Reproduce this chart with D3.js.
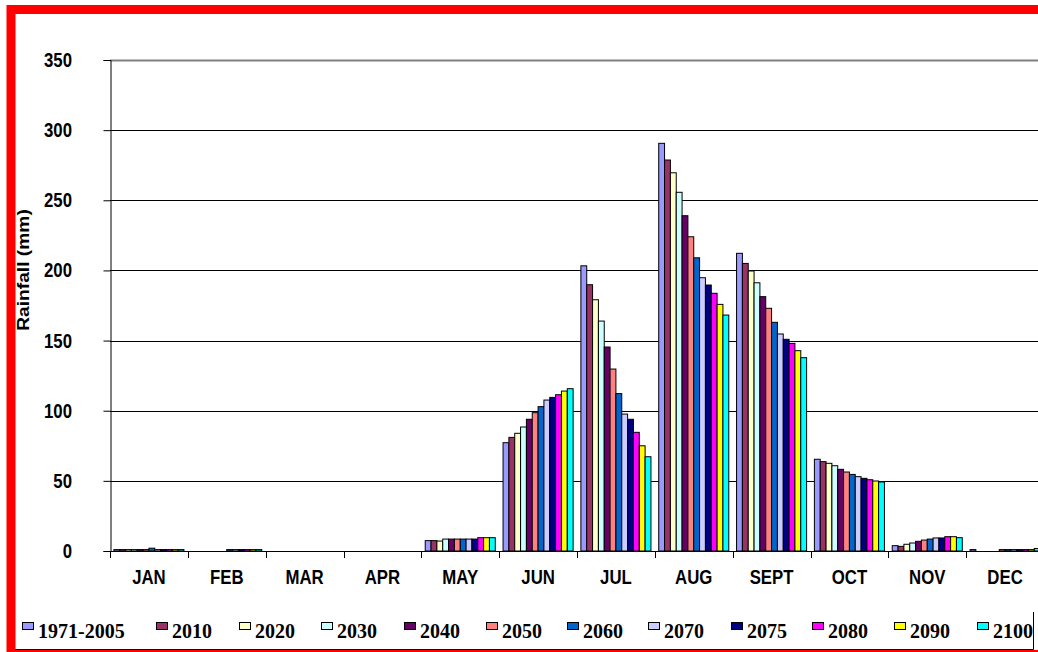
<!DOCTYPE html>
<style>
body { margin: 0; background: #fff; }
.lbl { font-family: "Liberation Sans", Arial, sans-serif; font-weight: bold; }
.leg { font-family: "Liberation Serif", "Times New Roman", serif; font-weight: bold; font-size: 20px; }
</style>
<svg width="1038" height="652" class="chart"></svg>
<script src="https://d3js.org/d3.v7.min.js"></script>
<script>

var months = ["JAN", "FEB", "MAR", "APR", "MAY", "JUN", "JUL", "AUG", "SEPT", "OCT", "NOV", "DEC"];
var series = ["1971-2005", "2010", "2020", "2030", "2040", "2050", "2060", "2070", "2075", "2080", "2090", "2100"];
var yTicks = [0, 50, 100, 150, 200, 250, 300, 350];

// rainfall (mm) per month, one value per series
var jan  = [1, 1, 1, 1, 1, 1, 2, 1, 1, 1, 1, 1];
var feb  = [0, 0, 0, 0, 0, 0, 1, 1, 1, 1, 1, 1];
var mar  = [0, 0, 0, 0, 0, 0, 0, 0, 0, 0, 0, 0];
var apr  = [0, 0, 0, 0, 0, 0, 0, 0, 0, 0, 0, 0];
var may  = [7.4, 7.4, 7.1, 8.5, 8.5, 8.5, 8.5, 8.5, 8.5, 9.5, 9.5, 9.5];
var jun  = [77.2, 81, 83.9, 88.4, 93.9, 98.6, 102.9, 107.6, 109.5, 111.4, 114, 115.7];
var jul  = [203.3, 189.8, 179.1, 163.9, 145.4, 129.7, 112.2, 97.6, 93.9, 84.6, 75, 67.2];
var aug  = [290.6, 278.7, 269.6, 255.7, 239, 224, 209, 194.8, 189.6, 183.7, 175.8, 168.2];
var sept = [212.2, 205, 199.6, 191.2, 181.3, 173, 163, 154.7, 150.9, 148, 142.8, 137.8];
var oct  = [65.4, 63.7, 62.5, 60.8, 58.2, 56.3, 54.6, 53, 51.8, 50.8, 49.9, 49.2];
var nov  = [3.8, 3.3, 4.8, 5.7, 6.9, 7.8, 8.5, 9.3, 9.3, 10.2, 10.2, 9.5];
var dec  = [1, 0, 0, 0, 0, 1, 1, 1, 1, 1, 1, 1.8];

var colors = ["#9999ff", "#993366", "#ffffcc", "#ccffff", "#660066", "#ff8080",
              "#0066cc", "#ccccff", "#000080", "#ff00ff", "#ffff00", "#00ffff"];

var values = [jan, feb, mar, apr, may, jun, jul, aug, sept, oct, nov, dec];
var data = months.map(function(m, i) { return {month: m, vals: values[i]}; });

var svg = d3.select(".chart");

var plot = {left: 110, right: 1044, top: 60, bottom: 551};

var x0 = d3.scaleBand()
    .domain(months)
    .range([plot.left, plot.right])
    .paddingInner(0.1)
    .paddingOuter(0.05);

var x1 = d3.scaleBand()
    .domain(series)
    .range([0, x0.bandwidth()]);

var y = d3.scaleLinear()
    .domain([0, 350])
    .range([plot.bottom, plot.top]);

var z = d3.scaleOrdinal().domain(series).range(colors);

// gridlines
svg.append("g")
  .selectAll("line")
  .data(yTicks.filter(function(d) { return d > 0; }))
  .enter().append("line")
    .attr("x1", plot.left)
    .attr("x2", plot.right)
    .attr("y1", function(d) { return Math.round(y(d)) + 0.5; })
    .attr("y2", function(d) { return Math.round(y(d)) + 0.5; })
    .attr("stroke", function(d) { return d == 350 ? "#808080" : "#000"; })
    .attr("stroke-width", function(d) { return d == 350 ? 2 : 1; });

// bars
svg.append("g")
  .selectAll("g")
  .data(data)
  .enter().append("g")
    .attr("transform", function(d) { return "translate(" + x0(d.month) + ",0)"; })
  .selectAll("rect")
  .data(function(d) { return d.vals.map(function(v, i) { return {key: series[i], value: v}; }); })
  .enter().append("rect")
    .attr("x", function(d) { return x1(d.key); })
    .attr("y", function(d) { return y(d.value); })
    .attr("width", x1.bandwidth())
    .attr("height", function(d) { return plot.bottom - y(d.value); })
    .attr("fill", function(d) { return z(d.key); })
    .attr("stroke", "#000")
    .attr("stroke-width", 1);

// y axis (labels drawn narrow, like the stretched original)
var yAxis = svg.append("g")
    .attr("transform", "translate(" + (plot.left + 0.5) + ",0)")
    .call(d3.axisLeft(y).tickValues(yTicks).tickSize(7).tickFormat(""));
yAxis.select(".domain").attr("stroke", "#000");

svg.append("g")
  .selectAll("text")
  .data(yTicks)
  .enter().append("text")
    .attr("class", "lbl")
    .attr("font-size", 20)
    .attr("text-anchor", "end")
    .attr("transform", function(d) { return "translate(72," + (y(d) + 7) + ") scale(0.84,1)"; })
    .text(function(d) { return d; });

// x axis, ticks at band boundaries
var step = x0.step();
svg.append("line")
    .attr("x1", plot.left)
    .attr("x2", plot.right)
    .attr("y1", plot.bottom + 0.5)
    .attr("y2", plot.bottom + 0.5)
    .attr("stroke", "#000");
svg.append("g")
  .selectAll("line")
  .data(d3.range(months.length + 1))
  .enter().append("line")
    .attr("x1", function(i) { return Math.round(plot.left + i * step) + 0.5; })
    .attr("x2", function(i) { return Math.round(plot.left + i * step) + 0.5; })
    .attr("y1", plot.bottom)
    .attr("y2", plot.bottom + 7)
    .attr("stroke", "#000");
svg.append("g")
  .selectAll("text")
  .data(months)
  .enter().append("text")
    .attr("class", "lbl")
    .attr("font-size", 20)
    .attr("text-anchor", "middle")
    .attr("transform", function(d) { return "translate(" + (x0(d) + x0.bandwidth() / 2) + ",584) scale(0.84,1)"; })
    .text(function(d) { return d; });

svg.append("text")
    .attr("class", "lbl")
    .attr("font-size", 17)
    .attr("text-anchor", "middle")
    .attr("transform", "translate(29,270) rotate(-90) scale(1.13,1)")
    .text("Rainfall (mm)");

// legend
svg.append("path")
    .attr("d", "M1033.5,612V649.5H15")
    .attr("fill", "none")
    .attr("stroke", "#000");

var legX = [22, 156, 239, 321, 404, 486, 567, 648, 731, 812, 894, 977];
var legend = svg.append("g")
    .attr("class", "leg")
  .selectAll("g")
  .data(series)
  .enter().append("g")
    .attr("transform", function(d, i) { return "translate(" + legX[i] + ",0)"; });

legend.append("rect")
    .attr("x", 0.5)
    .attr("y", 622.5)
    .attr("width", 11)
    .attr("height", 7)
    .attr("fill", function(d) { return z(d); })
    .attr("stroke", "#000");

legend.append("text")
    .attr("x", 16)
    .attr("y", 638)
    .text(function(d) { return d; });

// red frame
svg.append("rect")
    .attr("x", 11)
    .attr("y", 9.5)
    .attr("width", 1100)
    .attr("height", 645)
    .attr("fill", "none")
    .attr("stroke", "#ff0000")
    .attr("stroke-width", 9);

</script>
